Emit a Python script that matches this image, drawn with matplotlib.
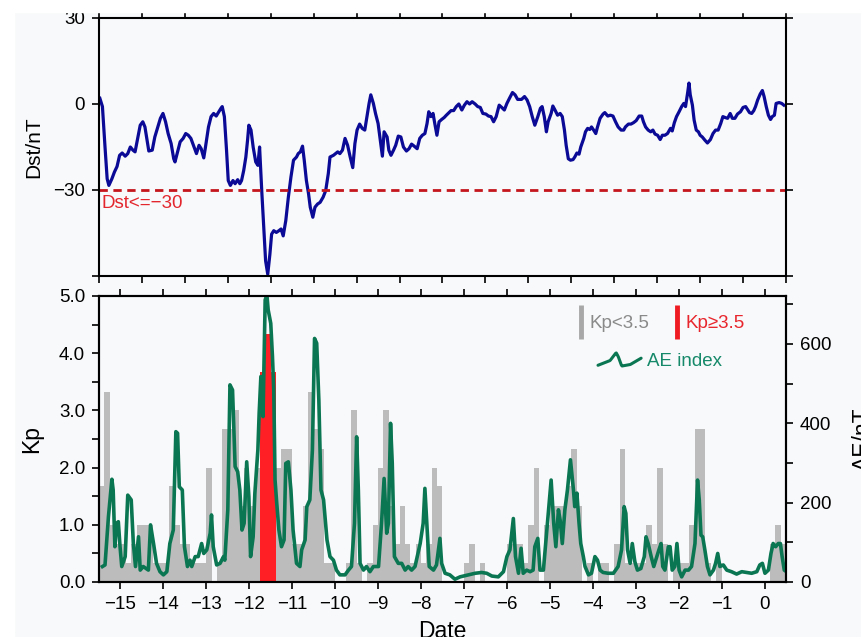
import numpy as np
import matplotlib
matplotlib.use('Agg')
import matplotlib.pyplot as plt
from matplotlib.lines import Line2D
from matplotlib.legend_handler import HandlerBase
from matplotlib.patches import Rectangle

# ---- DATA (days relative to event) ----
dst_day = [
    -15.48, -15.42, -15.36, -15.31, -15.27, -15.20, -15.14, -15.08, -15.02, -14.96,
    -14.89, -14.83, -14.77, -14.71, -14.66, -14.60, -14.54, -14.48, -14.43, -14.38,
    -14.34, -14.26, -14.20, -14.13, -14.07, -14.01, -13.95, -13.89, -13.82, -13.76,
    -13.73, -13.67, -13.61, -13.54, -13.48, -13.42, -13.36, -13.30, -13.23, -13.17,
    -13.12, -13.06, -13.02, -12.95, -12.89, -12.83, -12.77, -12.71, -12.66, -12.63,
    -12.58, -12.53, -12.49, -12.44, -12.38, -12.33, -12.27, -12.22, -12.18, -12.13,
    -12.08, -12.04, -12.01, -11.96, -11.91, -11.85, -11.80, -11.76, -11.71, -11.66,
    -11.62, -11.57, -11.52, -11.48, -11.43, -11.37, -11.31, -11.26, -11.21, -11.15,
    -11.09, -11.03, -10.97, -10.90, -10.86, -10.81, -10.76, -10.72, -10.67, -10.62,
    -10.58, -10.52, -10.47, -10.41, -10.35, -10.28, -10.22, -10.16, -10.12,
    -10.04, -9.99, -9.94, -9.89, -9.83, -9.77, -9.71, -9.65, -9.59, -9.54,
    -9.49, -9.43, -9.37, -9.31, -9.26, -9.21, -9.17, -9.11, -9.06, -9.00,
    -8.95, -8.90, -8.86, -8.79, -8.75, -8.70, -8.64, -8.59, -8.53, -8.47,
    -8.41, -8.34, -8.28, -8.22, -8.16, -8.09, -8.03, -7.97, -7.91, -7.86,
    -7.82, -7.77, -7.72, -7.68, -7.63, -7.58, -7.52, -7.46, -7.41, -7.35,
    -7.30, -7.24, -7.18, -7.12, -7.05, -6.99, -6.93, -6.87, -6.81, -6.74,
    -6.68, -6.62, -6.56, -6.49, -6.43, -6.37, -6.31, -6.25, -6.18, -6.12,
    -6.06, -6.00, -5.94, -5.87, -5.81, -5.75, -5.66, -5.59, -5.53, -5.47,
    -5.41, -5.35, -5.28, -5.22, -5.18, -5.13, -5.08, -5.04, -4.97, -4.93,
    -4.88, -4.82, -4.76,
    -4.71, -4.66, -4.62, -4.57, -4.52, -4.46, -4.42, -4.37, -4.32, -4.28,
    -4.21, -4.17, -4.12, -4.07, -4.03, -3.98, -3.93, -3.89, -3.83, -3.76,
    -3.72, -3.65, -3.59, -3.53, -3.47, -3.41, -3.34, -3.28, -3.24, -3.17,
    -3.11, -3.05, -2.99, -2.92, -2.86, -2.82, -2.77, -2.71, -2.65, -2.60,
    -2.55, -2.49, -2.43, -2.38, -2.32, -2.26, -2.19, -2.15, -2.10, -2.05,
    -1.99, -1.93, -1.88, -1.84, -1.79, -1.76, -1.73, -1.68, -1.64, -1.59,
    -1.54, -1.50, -1.45, -1.39, -1.33, -1.26, -1.20, -1.14, -1.08, -1.02,
    -0.97, -0.92, -0.86, -0.80, -0.75, -0.69, -0.63, -0.56, -0.50, -0.44,
    -0.39, -0.35, -0.30, -0.25, -0.21, -0.16, -0.10, -0.05, -0.01, 0.04,
    0.09, 0.14, 0.18, 0.23, 0.27, 0.34, 0.40, 0.45,
]
dst_val = [
    2.0, -0.9, -15.0, -26.1, -28.4, -26.1, -23.7, -21.8, -17.9, -17.1,
    -18.2, -17.3, -15.0, -16.1, -16.7, -12.0, -7.4, -6.2, -8.0, -12.6,
    -16.4, -16.1, -11.5, -8.0, -5.0, -3.3, -6.2, -10.3, -13.8, -19.1,
    -20.2, -16.7, -13.2, -12.0, -10.3, -10.9, -12.0, -14.4, -17.3, -14.4,
    -15.6, -18.8, -15.0, -8.0, -4.4, -3.3, -4.2, -2.7, -1.5, -0.9,
    -4.4, -16.1, -26.7, -28.4, -26.7, -27.8, -26.4, -27.8, -26.7, -23.2,
    -18.5, -12.6, -7.4, -9.1, -15.0, -20.2, -21.4, -15.0, -30.2, -44.2,
    -54.7, -59.4, -52.4, -45.4, -44.2, -44.8, -44.2, -43.6, -46.0, -40.7,
    -32.5, -25.5, -19.6, -18.5, -17.3, -16.7, -14.7, -19.6, -26.7, -31.3,
    -36.0, -39.5, -36.0, -34.9, -34.3, -32.5, -30.2, -24.3, -18.5,
    -17.9, -17.3, -16.7, -17.3, -16.1, -12.0, -14.4, -18.5, -22.2, -13.8,
    -9.1, -7.0, -8.5, -9.1, -4.4, 0.2, 3.2, 0.2, -3.3, -6.8,
    -12.6, -18.2, -9.7, -11.5, -16.1, -17.9, -16.1, -14.4, -11.2, -11.5,
    -15.0, -16.4, -15.6, -14.0, -14.7, -15.6, -12.0, -10.9, -10.3, -6.8,
    -2.7, -4.4, -3.3, -6.8, -10.9, -6.2, -5.4, -4.7, -3.9, -3.0,
    -2.3, -2.3, -0.9, 0.0, -2.1, -0.4, 0.8, 0.0, 0.8, 0.0,
    -0.9, -1.2, -3.3, -3.5, -4.2, -4.4, -6.2, -4.4, -0.4, -1.2,
    -2.1, 0.2, 2.0, 4.0, 3.2, 1.6, 1.6, 2.6, 1.4, -0.9,
    -4.4, -7.4, -4.4, -1.5, -0.9, -4.4, -9.7, -6.2, -3.3, -0.7,
    -2.1, -3.9, -3.3,
    -4.4, -9.1, -14.4, -19.1, -19.6, -19.4, -18.5, -17.1, -17.5, -15.0,
    -12.0, -9.7, -8.5, -8.9, -8.0, -9.1, -10.3, -8.0, -5.0, -3.5,
    -3.0, -4.2, -3.9, -4.2, -6.2, -8.0, -9.1, -9.1, -8.0, -7.0,
    -7.0, -6.5, -5.8, -4.2, -4.2, -6.2, -8.0, -9.1, -9.7, -9.1,
    -10.5, -10.9, -12.4, -10.9, -10.9, -10.3, -8.5, -9.4, -6.5, -4.4,
    -2.7, -0.9, 0.2, -0.9, 4.0, 7.3, 3.2, -0.4, -5.6, -9.1,
    -9.7, -10.9, -11.5, -12.6, -13.6, -12.4, -10.3, -9.1, -9.1, -6.8,
    -4.4, -4.7, -5.0, -3.3, -5.0, -5.0, -3.5, -2.7, -1.2, -0.9,
    -2.1, -3.0, -3.3, -2.3, -0.9, 1.4, 3.5, 4.7, 2.6, -0.9,
    -3.9, -5.4, -4.4, -3.9, 0.2, 0.5, 0.2, -0.4,
]

ae_day = [
    -15.42, -15.36, -15.28, -15.20, -15.17, -15.13, -15.09, -15.05, -15.01, -14.97,
    -14.89, -14.83, -14.75, -14.70, -14.65, -14.58, -14.54, -14.47, -14.35, -14.30,
    -14.23, -14.16, -14.08, -14.00, -13.92, -13.85, -13.77, -13.71, -13.67, -13.63,
    -13.56, -13.51, -13.44, -13.38, -13.34, -13.26, -13.19, -13.11, -13.06, -12.99,
    -12.91, -12.88, -12.84, -12.76, -12.68, -12.60, -12.57, -12.50, -12.45, -12.39,
    -12.33, -12.27, -12.22, -12.17, -12.12, -12.06, -12.01, -11.97, -11.91, -11.87,
    -11.80, -11.77, -11.73, -11.68, -11.63, -11.59, -11.56, -11.50, -11.46, -11.43,
    -11.40, -11.36, -11.31, -11.25, -11.19, -11.15, -11.09, -11.03, -10.98, -10.90,
    -10.82, -10.78, -10.70, -10.66, -10.59, -10.53, -10.48, -10.43, -10.38, -10.33,
    -10.27, -10.19, -10.12,
    -10.04, -9.97, -9.89, -9.77, -9.69, -9.62, -9.55, -9.50, -9.46, -9.42,
    -9.34, -9.27, -9.19, -9.11, -8.99, -8.92, -8.86, -8.80, -8.76, -8.71,
    -8.67, -8.62, -8.53, -8.45, -8.37, -8.30, -8.22, -8.14, -8.02, -7.95,
    -7.91, -7.86, -7.81, -7.71, -7.64, -7.56, -7.52, -7.44, -7.33, -7.21,
    -7.09, -6.90, -6.74, -6.59, -6.47, -6.35, -6.20, -6.08, -6.00, -5.93,
    -5.85, -5.80, -5.73, -5.67, -5.62, -5.54, -5.46, -5.39, -5.35, -5.28,
    -5.23, -5.15, -5.07, -4.97, -4.91, -4.86, -4.80,
    -4.76, -4.71, -4.65, -4.59, -4.52, -4.45, -4.42, -4.37, -4.32, -4.28,
    -4.22, -4.18, -4.10, -4.03, -3.95, -3.89, -3.83, -3.76, -3.64, -3.52,
    -3.41, -3.33, -3.27, -3.23, -3.19, -3.13, -3.08, -3.02, -2.96, -2.88,
    -2.80, -2.76, -2.71, -2.64, -2.58, -2.51, -2.46, -2.41, -2.37, -2.32,
    -2.24, -2.20, -2.15, -2.09, -2.04, -1.99, -1.93, -1.85, -1.77, -1.70,
    -1.62, -1.56, -1.52, -1.48, -1.44, -1.39, -1.33, -1.27, -1.19, -1.14,
    -1.09, -1.04, -0.96, -0.88, -0.77, -0.65, -0.53, -0.42, -0.30, -0.18,
    -0.11, -0.05, 0.01, 0.09, 0.15, 0.20, 0.26, 0.32, 0.37, 0.41,
    0.46, 0.51,
]
ae_val = [
    39, 43, 165, 259, 232, 89, 148, 152, 89, 39,
    64, 219, 207, 97, 39, 114, 30, 39, 30, 144,
    97, 47, 26, 18, 26, 97, 131, 379, 375, 240,
    232, 89, 39, 55, 39, 64, 64, 97, 72, 81,
    123, 169, 89, 43, 47, 64, 55, 182, 497, 484,
    291, 278, 232, 131, 148, 303, 215, 64, 114, 224,
    333, 425, 518, 417, 711, 724, 686, 652, 568, 484,
    257, 198, 131, 89, 106, 299, 303, 232, 131, 47,
    39, 81, 106, 190, 207, 333, 614, 602, 459, 232,
    207, 106, 64,
    55, 30, 18, 18, 30, 39, 148, 366, 232, 47,
    30, 39, 26, 39, 39, 148, 261, 123, 148, 400,
    299, 64, 47, 47, 30, 39, 30, 39, 97, 148,
    236, 139, 39, 30, 43, 110, 47, 22, 18, 7,
    13, 18, 22, 24, 22, 15, 13, 26, 64, 81,
    160, 64, 22, 85, 22, 30, 26, 30, 89, 110,
    30, 30, 131, 257, 148, 89, 182,
    156, 97, 182, 232, 308, 232, 190, 224, 148, 97,
    64, 39, 18, 22, 64, 55, 30, 24, 22, 22,
    39, 81, 190, 173, 81, 47, 97, 51, 30, 34,
    64, 114, 97, 64, 39, 64, 81, 97, 39, 30,
    89, 89, 30, 39, 97, 30, 13, 30, 30, 39,
    97, 257, 207, 118, 114, 81, 39, 18, 30, 47,
    72, 39, 43, 30, 26, 20, 26, 24, 22, 26,
    43, 47, 22, 30, 72, 97, 89, 97, 97, 64,
    30, 26,
]

# 3-hourly Kp, one row per day, first bar starts at day -15.5
kp_start = -15.5
kp_step = 0.125
kp_val = [
    1.67, 3.33, 1.0, 0.67, 0.67, 0.33, 0.67, 1.0,
    1.0, 1.0, 0.33, 0.33, 0.33, 1.67, 1.0, 0.67,
    0.67, 0.33, 0.33, 0.33, 2.0, 0, 0.33, 2.67,
    2.67, 3.0, 1.33, 2.0, 1.33, 2.0, 3.67, 4.33,
    3.67, 2.0, 2.33, 2.33, 0.67, 0.67, 1.33, 3.33,
    2.67, 2.33, 0.33, 0.33, 0, 0, 0.33, 3.0,
    0.33, 0, 0.33, 1.0, 2.0, 3.0, 1.33, 0.67,
    1.33, 0.67, 0.33, 0.67, 0.33, 0.67, 2.0, 1.67,
    0, 0, 0, 0, 0.33, 0.67, 0, 0.33,
    0, 0, 0, 0, 0.67, 0.67, 0.67, 0.33,
    1.0, 2.0, 0, 1.0, 1.33, 1.33, 1.33, 1.67,
    2.33, 1.33, 0, 0.33, 0, 0.33, 0.33, 0,
    0.67, 2.33, 0.33, 0.33, 0.33, 0.33, 1.0, 0.67,
    2.0, 0.67, 0, 0.33, 0.33, 0.33, 1.0, 2.67,
    2.67, 0.33, 0, 0.33, 0, 0, 0, 0,
    0, 0, 0, 0, 0, 0.67, 1.0, 0.67,
]
kp_threshold = 3.5
dst_threshold = -30

# ---- STYLE ----
BG = '#f8f9fa'
C_DST = '#0a0a96'
C_AE = '#0b7652'
C_GRAY = '#bcbcbc'
C_RED = '#ff1f24'

plt.rcParams.update({
    'font.family': ['Liberation Sans', 'DejaVu Sans'],
    'font.size': 13.5,
    'axes.linewidth': 1.5,
    'xtick.direction': 'out',
    'ytick.direction': 'out',
    'xtick.major.size': 5,
    'ytick.major.size': 5,
    'xtick.major.width': 1.2,
    'ytick.major.width': 1.2,
    'xtick.major.pad': 5,
    'ytick.major.pad': 5,
})


class HandlerSquiggle(HandlerBase):
    """Little wavy line for the AE legend entry."""
    def create_artists(self, legend, orig_handle, xdescent, ydescent,
                       width, height, fontsize, trans):
        t = np.linspace(0, 1, 60)
        shape = np.interp(t, [0, 0.28, 0.42, 0.47, 0.55, 0.75, 1.0],
                          [-0.7, -0.1, 0.9, 0.4, -0.8, -0.6, 0.2])
        x = -xdescent + t * width
        y = -ydescent + height / 2 + shape * height * 0.6
        ln = Line2D(x, y, color=orig_handle.get_color(),
                    lw=orig_handle.get_linewidth(), transform=trans,
                    solid_capstyle='round')
        return [ln]


W, H = 862, 637
fig = plt.figure(figsize=(W / 100, H / 100), dpi=100, facecolor=BG)
# white strip on top / left edges of the screenshot
fig.patches.append(Rectangle((0, 1 - 12 / H), 1, 12 / H, transform=fig.transFigure,
                             color='white', zorder=0))
fig.patches.append(Rectangle((0, 0), 14 / W, 1, transform=fig.transFigure,
                             color='white', zorder=0))

x0, x1 = 99, 786
ax_dst = fig.add_axes([x0 / W, 1 - 276 / H, (x1 - x0) / W, 258 / H], facecolor=BG)
ax_kp = fig.add_axes([x0 / W, 1 - 582 / H, (x1 - x0) / W, 286 / H], facecolor=BG)
ax_ae = ax_kp.twinx()

# --- TOP: Dst ---
ax_dst.plot(dst_day, dst_val, color=C_DST, lw=2.3, solid_joinstyle='round')
ax_dst.axhline(dst_threshold, color='#c4161c', lw=2, ls=(0, (3, 2)))
ax_dst.text(-15.45, -31.8, 'Dst<=\u221230', color='#e3262e', fontsize=13.5,
            ha='left', va='top')
ax_dst.set_xlim(-15.5, 0.5)
ax_dst.set_ylim(-60, 30)
ax_dst.set_yticks([-60, -30, 0, 30])
ax_dst.set_yticklabels(['', '\u221230', '0', '30'])
ax_dst.set_xticks(np.arange(-15.5, 0.51, 1.0))
ax_dst.tick_params(axis='x', top=True, bottom=True, labelbottom=False)
ax_dst.tick_params(axis='y', left=True, right=True)
ax_dst.set_ylabel('Dst/nT', fontsize=15)
ax_dst.yaxis.set_label_coords(-0.0815, 0.5)

# --- BOTTOM: Kp bars + AE ---
kp = np.array(kp_val)
kp_day = kp_start + kp_step * np.arange(len(kp))
bar_colors = [C_RED if v >= kp_threshold else C_GRAY for v in kp]
ax_kp.bar(kp_day, kp, width=kp_step, align='edge', color=bar_colors, lw=0)
ax_kp.set_xlim(-15.5, 0.5)
ax_kp.set_ylim(0, 5)
kp_ticks = np.arange(0, 5.01, 0.5)
ax_kp.set_yticks(kp_ticks)
ax_kp.set_yticklabels([f'{v:.1f}' if v % 1 == 0 else '' for v in kp_ticks])
ax_kp.set_xticks(np.arange(-15, 1))
ax_kp.set_xticklabels([str(v).replace('-', '\u2212') for v in range(-15, 1)])
ax_kp.tick_params(axis='x', top=True, bottom=True)
ax_kp.set_ylabel('Kp', fontsize=16.5)
ax_kp.yaxis.set_label_coords(-0.0815, 0.5)
ax_kp.set_xlabel('Date', fontsize=16.5, labelpad=5)

ax_ae.plot(ae_day, ae_val, color=C_AE, lw=2.6, solid_joinstyle='round')
ax_ae.set_ylim(0, 721)
ae_ticks = np.arange(0, 701, 100)
ax_ae.set_yticks(ae_ticks)
ax_ae.set_yticklabels([str(v) if v % 200 == 0 else '' for v in ae_ticks])
ax_ae.set_ylabel('AE/nT', fontsize=16.5)
ax_ae.yaxis.set_label_coords((852 - x0) / (x1 - x0), 0.5)

# legends
h_gray = Line2D([], [], ls='none', marker='|', markersize=24, mew=3.5, color='#a8a8a8')
h_red = Line2D([], [], ls='none', marker='|', markersize=24, mew=3.5, color='#f01c24')
leg1 = ax_ae.legend([h_gray, h_red], ['Kp<3.5', 'Kp\u22653.5'], ncol=2, frameon=False,
                    loc='upper right', bbox_to_anchor=(0.94, 0.933),
                    handlelength=0.4, handletextpad=0.25, columnspacing=1.3,
                    borderpad=0, borderaxespad=0, fontsize=13.5,
                    labelcolor=['#8a8a8a', '#e8262d'])
ax_ae.add_artist(leg1)
h_ae = Line2D([], [], color=C_AE, lw=2.2)
ax_ae.legend([h_ae], ['AE index'], handler_map={h_ae: HandlerSquiggle()},
             loc='upper left', bbox_to_anchor=((598 - x0) / (x1 - x0), 0.80),
             frameon=False, handlelength=2.3, handletextpad=0.3,
             borderpad=0, borderaxespad=0, fontsize=13.5, labelcolor='#16896a')

plt.savefig('out.png', dpi=100, facecolor=BG)
